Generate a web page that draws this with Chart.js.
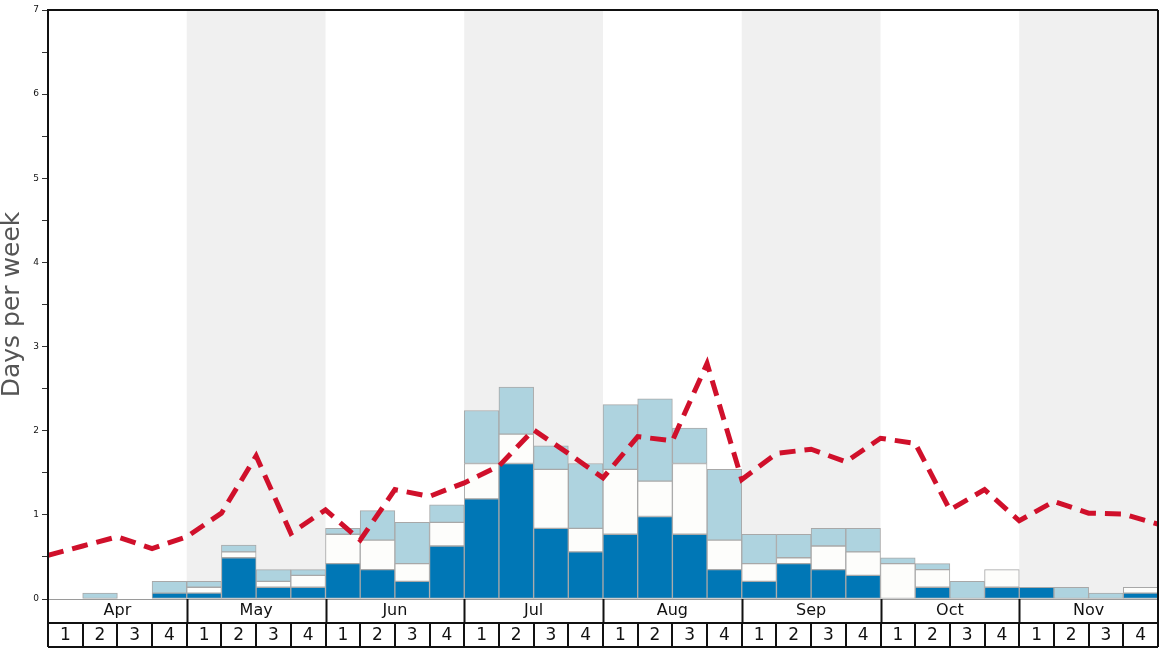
<!DOCTYPE html>
<html>
<head>
<meta charset="utf-8">
<title>Days per week</title>
<script src="https://cdn.jsdelivr.net/npm/chart.js@4.4.1/dist/chart.umd.min.js"></script>
<style>
    html, body { margin: 0; padding: 0; background: #fff; }
    #chart { display: block; }
</style>
</head>
<body>
<canvas id="chart" width="1168" height="648"></canvas>
<script>
// ─── DATA ────────────────────────────────────────────────────
const months   = ['Apr', 'May', 'Jun', 'Jul', 'Aug', 'Sep', 'Oct', 'Nov'];
const weekNums = ['1', '2', '3', '4'];

// stacked segments per week (bottom → top)
const darkVals  = [0, 0, 0, 0.07,   0.07, 0.49, 0.14, 0.14,   0.42, 0.35, 0.21, 0.63,
                   1.19, 1.61, 0.84, 0.56,   0.77, 0.98, 0.77, 0.35,   0.21, 0.42, 0.35, 0.28,
                   0, 0.14, 0, 0.14,   0.14, 0, 0, 0.07];
const whiteVals = [0, 0, 0, 0,   0.07, 0.07, 0.07, 0.14,   0.35, 0.35, 0.21, 0.28,
                   0.42, 0.35, 0.70, 0.28,   0.77, 0.42, 0.84, 0.35,   0.21, 0.07, 0.28, 0.28,
                   0.42, 0.21, 0, 0.21,   0, 0, 0, 0.07];
const lightVals = [0, 0.07, 0, 0.14,   0.07, 0.08, 0.14, 0.07,   0.07, 0.35, 0.49, 0.21,
                   0.63, 0.56, 0.28, 0.77,   0.77, 0.98, 0.42, 0.84,   0.35, 0.28, 0.21, 0.28,
                   0.07, 0.07, 0.21, 0,   0, 0.14, 0.07, 0];

// dashed line, one value per week boundary (33 points)
const lineVals = [0.52, 0.63, 0.74, 0.60, 0.74, 1.02, 1.70, 0.78, 1.06, 0.70, 1.30,
                  1.22, 1.38, 1.58, 2.01, 1.73, 1.44, 1.93, 1.88, 2.80, 1.42, 1.73,
                  1.78, 1.63, 1.91, 1.85, 1.06, 1.30, 0.93, 1.16, 1.02, 1.01, 0.89];

const yMajorTicks = [0, 1, 2, 3, 4, 5, 6, 7];

// ─── BUILD ───────────────────────────────────────────────────
const weekLabels = [];
months.forEach(m => weekNums.forEach(w => weekLabels.push(m + ' ' + w)));

const FONT = "'DejaVu Sans', sans-serif";

// month shading + bottom table + frame
const decorPlugin = {
    id: 'decor',
    beforeDatasetsDraw(chart) {
        const { ctx, chartArea: { top, bottom } } = chart;
        const xs = chart.scales.x2;
        ctx.save();
        ctx.fillStyle = '#f0f0f0';
        months.forEach((m, i) => {
            if (i % 2 === 0) return;
            const l = xs.getPixelForValue(i * 4);
            const r = xs.getPixelForValue(i * 4 + 4);
            ctx.fillRect(l, top, r - l, bottom - top);
        });
        ctx.restore();
    },
    afterDraw(chart) {
        const { ctx, chartArea: { left, right, top, bottom } } = chart;
        const xs = chart.scales.x2;
        const row1 = bottom + 24;
        const row2 = bottom + 48;
        ctx.save();

        // zero line
        ctx.strokeStyle = '#9a9a9a';
        ctx.lineWidth = 1;
        ctx.beginPath();
        ctx.moveTo(left, bottom + 0.5);
        ctx.lineTo(right, bottom + 0.5);
        ctx.stroke();

        ctx.strokeStyle = '#111';
        ctx.lineWidth = 2;
        ctx.beginPath();
        // frame
        ctx.moveTo(left, top); ctx.lineTo(right, top);
        ctx.moveTo(right, top); ctx.lineTo(right, row2);
        ctx.moveTo(left, top - 1); ctx.lineTo(left, row2);
        ctx.moveTo(left, row1); ctx.lineTo(right, row1);
        ctx.moveTo(left, row2); ctx.lineTo(right, row2);
        // month separators
        for (let i = 1; i < months.length; i++) {
            const x = Math.round(xs.getPixelForValue(i * 4)) + 0.5;
            ctx.moveTo(x, bottom); ctx.lineTo(x, row1);
        }
        // week separators
        for (let i = 1; i < weekLabels.length; i++) {
            const x = Math.round(xs.getPixelForValue(i));
            ctx.moveTo(x, row1); ctx.lineTo(x, row2);
        }
        ctx.stroke();

        ctx.fillStyle = '#111';
        ctx.textAlign = 'center';
        ctx.textBaseline = 'middle';
        ctx.font = '16px ' + FONT;
        months.forEach((m, i) => {
            ctx.fillText(m, xs.getPixelForValue(i * 4 + 2), bottom + 12);
        });
        ctx.font = '17px ' + FONT;
        weekLabels.forEach((w, i) => {
            ctx.fillText(weekNums[i % 4], xs.getPixelForValue(i + 0.5), row1 + 13);
        });
        ctx.restore();
    },
};

const barStyle = {
    borderColor: '#a8a8a8',
    borderWidth: 1,
    borderSkipped: false,
    barPercentage: 1,
    categoryPercentage: 1,
    grouped: false,
    order: 1,
};

new Chart(document.getElementById('chart'), {
    type: 'bar',
    data: {
        labels: weekLabels,
        datasets: [
            { label: 'dark',  data: darkVals,  backgroundColor: '#0077b6', ...barStyle },
            { label: 'white', data: whiteVals, backgroundColor: '#fdfdfb', ...barStyle },
            { label: 'light', data: lightVals, backgroundColor: '#aed3df', ...barStyle },
            {
                type: 'line',
                label: 'line',
                data: lineVals.map((v, i) => ({ x: i, y: v })),
                xAxisID: 'x2',
                borderColor: '#d0102b',
                borderWidth: 5,
                borderDash: [16, 9],
                pointRadius: 0,
                tension: 0,
                fill: false,
                order: 0,
            },
        ],
    },
    options: {
        responsive: false,
        animation: false,
        layout: { padding: { top: 10, right: 10, bottom: 49, left: 0 } },
        plugins: {
            legend: { display: false },
            tooltip: { enabled: false },
        },
        scales: {
            x: {
                display: false,
                stacked: true,
                offset: true,
            },
            x2: {
                type: 'linear',
                display: false,
                min: 0,
                max: weekLabels.length,
                offset: false,
            },
            y: {
                stacked: true,
                min: 0,
                max: 7,
                afterFit(scale) { scale.width = 48; },
                afterBuildTicks(scale) {
                    const t = [];
                    for (let v = 0; v <= 7; v += 0.5) t.push({ value: v });
                    scale.ticks = t;
                },
                ticks: {
                    padding: 3,
                    color: '#111',
                    font: { family: FONT, size: 9 },
                    callback: v => yMajorTicks.includes(v) ? String(v) : '',
                },
                grid: {
                    drawOnChartArea: false,
                    drawTicks: true,
                    tickLength: 6,
                    color: '#333',
                },
                border: { display: true, color: '#111', width: 2 },
                title: {
                    display: true,
                    text: 'Days per week',
                    color: '#555',
                    font: { family: FONT, size: 25, lineHeight: 1 },
                    padding: { top: 0, bottom: 0 },
                },
            },
        },
    },
    plugins: [decorPlugin],
});
</script>
</body>
</html>
